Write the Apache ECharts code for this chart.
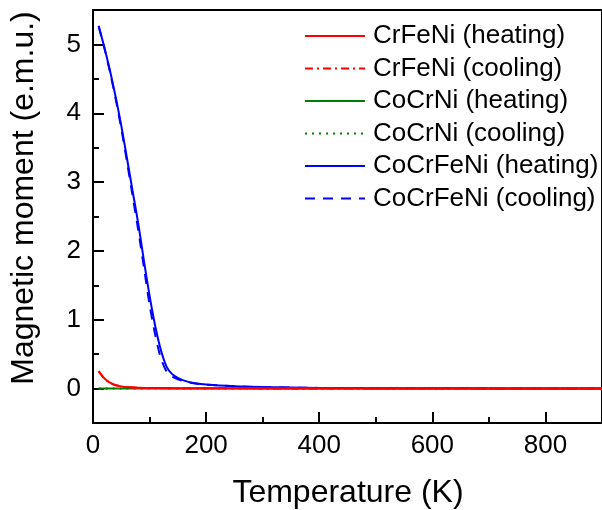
<!DOCTYPE html>
<html>
<head>
<meta charset="utf-8">
<script src="https://cdn.jsdelivr.net/npm/echarts@6/dist/echarts.min.js"></script>
<style>
html,body{margin:0;padding:0;background:#fff;}
#chart{width:602px;height:510px;}
</style>
</head>
<body>
<div id="chart"></div>
<script>
// ---- data ----
var seriesNames = ['CrFeNi (heating)', 'CrFeNi (cooling)', 'CoCrNi (heating)', 'CoCrNi (cooling)', 'CoCrFeNi (heating)', 'CoCrFeNi (cooling)'];

var tCoCrFeNiHeat = [10,20,30,40,50,60,70,80,90,100,110,120,130,140,150,160,175,200,250,300,400,500,600,700,800,900];
var mCoCrFeNiHeat = [5.27,4.96,4.62,4.24,3.82,3.35,2.87,2.40,1.86,1.35,0.91,0.56,0.32,0.21,0.155,0.12,0.085,0.06,0.035,0.022,0.010,0.006,0.004,0.003,0.002,0.002];

var tCoCrFeNiCool = [10,20,30,40,50,60,70,80,90,100,110,120,130,140,150,160,175,200,250,300,400,500,600,700,800,900];
var mCoCrFeNiCool = [5.26,4.95,4.60,4.21,3.78,3.30,2.80,2.30,1.76,1.22,0.78,0.44,0.25,0.175,0.135,0.11,0.08,0.058,0.034,0.021,0.010,0.006,0.004,0.003,0.002,0.002];

var tCrFeNiHeat = [10,15,20,25,30,40,50,60,80,100,150,200,300,400,500,600,700,800,900];
var mCrFeNiHeat = [0.255,0.20,0.15,0.115,0.085,0.05,0.032,0.022,0.013,0.009,0.005,0.004,0.003,0.002,0.002,0.002,0.001,0.001,0.001];

var tCrFeNiCool = [10,15,20,25,30,40,50,60,80,100,150,200,300,400,500,600,700,800,900];
var mCrFeNiCool = [0.25,0.195,0.145,0.11,0.082,0.048,0.031,0.021,0.012,0.008,0.005,0.004,0.003,0.002,0.002,0.002,0.001,0.001,0.001];

var tCoCrNiHeat = [10,50,100,200,300,400,500,600,700,800,900];
var mCoCrNiHeat = [0.002,0.001,0.001,0.001,0.001,0.001,0.001,0.001,0.001,0.001,0.001];

var tCoCrNiCool = [10,50,100,200,300,400,500,600,700,800,900];
var mCoCrNiCool = [0.001,0.001,0.001,0.0,0.0,0.0,0.0,0.0,0.0,0.0,0.0];

var xTickLabels = [0,200,400,600,800];
var yTickLabels = [0,1,2,3,4,5];

var xTitle = 'Temperature (K)';
var yTitle = 'Magnetic moment (e.m.u.)';

function zip(t, m) { return t.map(function (v, i) { return [v, m[i]]; }); }

var FONT = "'Liberation Sans', Arial, sans-serif";
var Y_MIN = -0.5, Y_MAX = 5.5;
var GRID_TOP = 10, GRID_BOTTOM = 87, H = 510;
var plotH = H - GRID_TOP - GRID_BOTTOM;
var zeroPix = GRID_TOP + (Y_MAX - 0) / (Y_MAX - Y_MIN) * plotH;

var chart = echarts.init(document.getElementById('chart'), null, {renderer: 'canvas'});

function lineSeries(name, t, m, color, type) {
  return {
    name: name, type: 'line', xAxisIndex: 0, yAxisIndex: 0,
    data: zip(t, m), symbol: 'none', showSymbol: false, smooth: 0.25,
    lineStyle: {color: color, width: 2, type: type},
    itemStyle: {color: color, opacity: 0},
    emphasis: {disabled: true}
  };
}

var option = {
  animation: false,
  backgroundColor: '#ffffff',
  grid: [
    {left: 93, top: GRID_TOP, bottom: GRID_BOTTOM, right: -2, show: true, borderColor: '#000', borderWidth: 2, backgroundColor: 'transparent'},
    {left: 93, top: GRID_TOP, bottom: H - zeroPix, right: -2, show: false}
  ],
  legend: {
    data: seriesNames,
    orient: 'vertical', left: 304, top: 23, padding: 0,
    itemWidth: 60, itemHeight: 14, itemGap: 6.5,
    itemStyle: {opacity: 0},
    textStyle: {fontFamily: FONT, fontSize: 26, color: '#000', lineHeight: 26, padding: [0,0,0,3]},
    selectedMode: false
  },
  xAxis: [{
    gridIndex: 0, type: 'value', min: 0, max: 900, interval: 200, position: 'bottom',
    axisLine: {show: true, onZero: false, lineStyle: {color: '#000', width: 2}},
    axisTick: {show: true, inside: true, length: 11, lineStyle: {color: '#000', width: 2}},
    minorTick: {show: true, splitNumber: 2, length: 6, lineStyle: {color: '#000', width: 2}},
    axisLabel: {fontFamily: FONT, fontSize: 26, color: '#000', margin: 10, customValues: xTickLabels},
    splitLine: {show: false}, minorSplitLine: {show: false}
  }, {
    gridIndex: 1, type: 'value', min: 0, max: 900, show: false
  }],
  yAxis: [{
    gridIndex: 0, type: 'value', min: Y_MIN, max: Y_MAX, position: 'left',
    axisLine: {show: true, onZero: false, lineStyle: {color: '#000', width: 2}},
    axisTick: {show: false},
    axisLabel: {fontFamily: FONT, fontSize: 26, color: '#000', margin: 12, customValues: yTickLabels},
    splitLine: {show: false}
  }, {
    gridIndex: 1, type: 'value', min: 0, max: Y_MAX, interval: 1, position: 'left',
    axisLine: {show: false, onZero: false},
    axisTick: {show: true, inside: true, length: 11, lineStyle: {color: '#000', width: 2}},
    minorTick: {show: true, splitNumber: 2, length: 6, lineStyle: {color: '#000', width: 2}},
    axisLabel: {show: false},
    splitLine: {show: false}, minorSplitLine: {show: false}
  }],
  graphic: [
    {type: 'text', x: 348, y: 493, style: {text: xTitle, font: '32px ' + FONT, fill: '#000', textAlign: 'center', textVerticalAlign: 'middle'}},
    {type: 'text', x: 24, y: 198, rotation: Math.PI / 2, style: {text: yTitle, font: '32px ' + FONT, fill: '#000', textAlign: 'center', textVerticalAlign: 'middle'}}
  ],
  series: [
    lineSeries(seriesNames[4], tCoCrFeNiHeat, mCoCrFeNiHeat, '#0000ff', 'solid'),
    lineSeries(seriesNames[5], tCoCrFeNiCool, mCoCrFeNiCool, '#0000ff', [10, 8]),
    lineSeries(seriesNames[3], tCoCrNiCool, mCoCrNiCool, '#008000', [2, 5]),
    lineSeries(seriesNames[2], tCoCrNiHeat, mCoCrNiHeat, '#008000', 'solid'),
    lineSeries(seriesNames[1], tCrFeNiCool, mCrFeNiCool, '#ff0000', [8, 4, 2, 4]),
    lineSeries(seriesNames[0], tCrFeNiHeat, mCrFeNiHeat, '#ff0000', 'solid')
  ]
};
chart.setOption(option);
</script>
</body>
</html>
